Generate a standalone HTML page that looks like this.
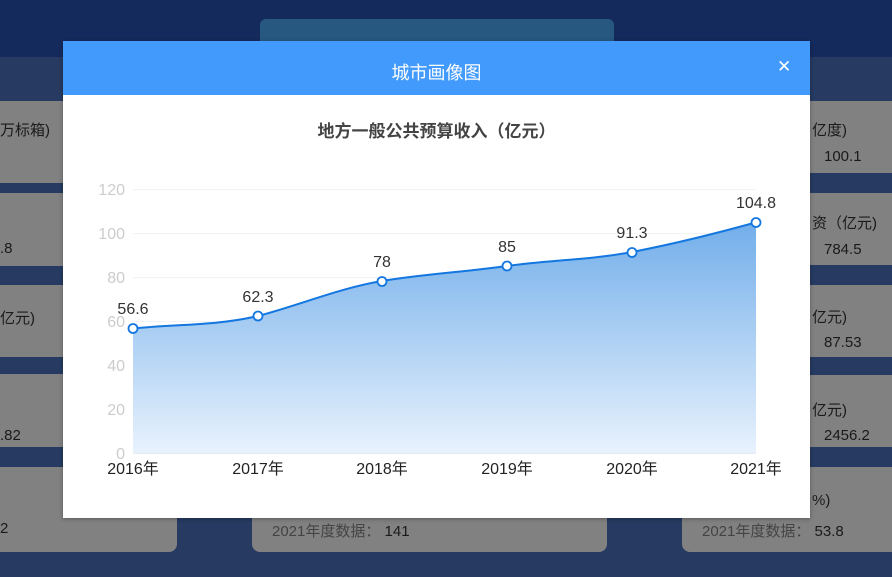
<!DOCTYPE html>
<html><head><meta charset="utf-8"><style>
body{margin:0;width:892px;height:577px;overflow:hidden;position:relative;background:#263a62;font-family:"Liberation Sans","Noto Sans CJK SC",sans-serif}
.a{position:absolute}
.g{position:absolute;background:#818181}
.t{position:absolute;font-size:15px;color:#1a1a1a;white-space:nowrap}
</style></head><body>
<div class="a" style="left:0;top:0;width:892px;height:57px;background:#152a5c"></div>
<div class="a" style="left:260px;top:19px;width:354px;height:40px;background:#27587f;border-radius:6px"></div>
<div class="g" style="left:0;top:101px;width:70px;height:82px"></div>
<div class="g" style="left:0;top:193px;width:70px;height:73px"></div>
<div class="g" style="left:0;top:285px;width:70px;height:72px"></div>
<div class="g" style="left:0;top:374px;width:70px;height:73px"></div>
<div class="g" style="left:0;top:467px;width:177px;height:85px;border-radius:0 0 8px 0"></div>
<div class="g" style="left:252px;top:467px;width:355px;height:85px;border-radius:0 0 8px 8px"></div>
<div class="g" style="left:682px;top:467px;width:210px;height:85px;border-radius:0 0 0 8px"></div>
<div class="g" style="left:800px;top:101px;width:92px;height:72px"></div>
<div class="g" style="left:800px;top:193px;width:92px;height:72px"></div>
<div class="g" style="left:800px;top:285px;width:92px;height:72px"></div>
<div class="g" style="left:800px;top:375px;width:92px;height:72px"></div>
<div class="t" style="left:0;top:119px">万标箱)</div>
<div class="t" style="left:0;top:240px">.8</div>
<div class="t" style="left:0;top:307px">亿元)</div>
<div class="t" style="left:0;top:427px">.82</div>
<div class="t" style="left:0;top:520px">2</div>
<div class="t" style="left:812px;top:119px">亿度)</div>
<div class="t" style="left:824px;top:148px">100.1</div>
<div class="t" style="left:812px;top:212px">资（亿元)</div>
<div class="t" style="left:824px;top:241px">784.5</div>
<div class="t" style="left:812px;top:306px">亿元)</div>
<div class="t" style="left:824px;top:334px">87.53</div>
<div class="t" style="left:812px;top:399px">亿元)</div>
<div class="t" style="left:824px;top:427px">2456.2</div>
<div class="t" style="left:812px;top:492px">%)</div>
<div class="t" style="left:702px;top:520px"><span style="color:#444">2021年度数据：</span> 53.8</div>
<div class="t" style="left:272px;top:520px"><span style="color:#444">2021年度数据：</span> 141</div>
<div class="a" style="left:63px;top:41px;width:747px;height:477px;background:#fff;box-shadow:0 1px 4px rgba(0,0,0,.3)"></div>
<div class="a" style="left:63px;top:41px;width:747px;height:54px;background:#429bfc;color:#fff;font-size:18px;text-align:center;line-height:64px">城市画像图</div>
<div class="a" style="left:777px;top:57px;color:#fff;font-size:17px">✕</div>
<div class="a" style="left:63px;top:117px;width:747px;text-align:center;font-size:17px;font-weight:bold;color:#444">地方一般公共预算收入（亿元）</div>
<svg class="a" style="left:0;top:0" width="892" height="577">
<defs><linearGradient id="gr" x1="0" y1="0" x2="0" y2="1"><stop offset="0" stop-color="#72aeea"/><stop offset="1" stop-color="#e8f2fd"/></linearGradient></defs>
<g stroke="#f1f3f6" stroke-width="1">
<line x1="133" x2="756" y1="189.5" y2="189.5"/><line x1="133" x2="756" y1="233.5" y2="233.5"/><line x1="133" x2="756" y1="277.5" y2="277.5"/><line x1="133" x2="756" y1="321.5" y2="321.5"/><line x1="133" x2="756" y1="365.5" y2="365.5"/><line x1="133" x2="756" y1="409.5" y2="409.5"/></g>
<line x1="133" x2="756" y1="453.5" y2="453.5" stroke="#e6e9f5"/>
<path d="M133,328.5 C175,324 215,326 258,316 C300,305 340,288 382,281 C424,274 465,272 507,266 C549,260 590,260 632,252 C674,244 714,234 756,222.4 L756,453 L133,453 Z" fill="url(#gr)"/>
<path d="M133,328.5 C175,324 215,326 258,316 C300,305 340,288 382,281 C424,274 465,272 507,266 C549,260 590,260 632,252 C674,244 714,234 756,222.4" fill="none" stroke="#1477e0" stroke-width="2"/>
<g fill="#fff" stroke="#1477e0" stroke-width="1.8"><circle cx="133" cy="328.5" r="4.5"/><circle cx="258" cy="316" r="4.5"/><circle cx="382" cy="281.5" r="4.5"/><circle cx="507" cy="266" r="4.5"/><circle cx="632" cy="252.5" r="4.5"/><circle cx="756" cy="222.5" r="4.5"/></g>
<g font-family="Liberation Sans" font-size="16" fill="#ccc" text-anchor="end"><text x="125" y="195">120</text><text x="125" y="239">100</text><text x="125" y="283">80</text><text x="125" y="327">60</text><text x="125" y="371">40</text><text x="125" y="415">20</text><text x="125" y="459">0</text></g>
<g font-family="Liberation Sans,Noto Sans CJK SC,sans-serif" font-size="16" fill="#222" text-anchor="middle"><text x="133" y="474">2016年</text><text x="258" y="474">2017年</text><text x="382" y="474">2018年</text><text x="507" y="474">2019年</text><text x="632" y="474">2020年</text><text x="756" y="474">2021年</text></g>
<g font-family="Liberation Sans" font-size="16" fill="#333" text-anchor="middle"><text x="133" y="314">56.6</text><text x="258" y="302">62.3</text><text x="382" y="267">78</text><text x="507" y="252">85</text><text x="632" y="238">91.3</text><text x="756" y="208">104.8</text></g>
</svg>
</body></html>
